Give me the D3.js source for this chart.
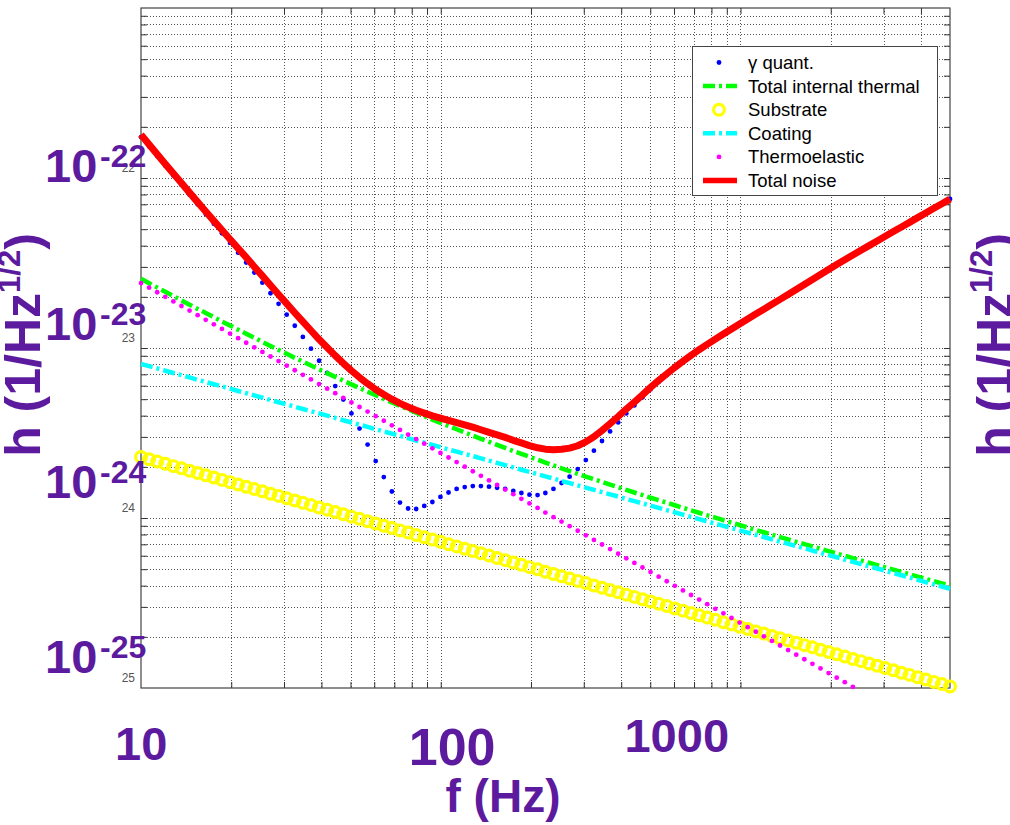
<!DOCTYPE html>
<html>
<head>
<meta charset="utf-8">
<script src="https://cdn.jsdelivr.net/npm/d3@7"></script>
<style>
  body { margin: 0; background: #fff; }
  svg { display: block; }
</style>
</head>
<body>
<svg width="1010" height="825"></svg>
<script>
// log10 of frequency (Hz) of every plotted sample
const logF = [1.000, 1.027, 1.054, 1.081, 1.108, 1.135, 1.162, 1.189, 1.216, 1.243,
  1.270, 1.297, 1.324, 1.351, 1.378, 1.405, 1.432, 1.459, 1.486, 1.513,
  1.540, 1.567, 1.594, 1.621, 1.648, 1.675, 1.702, 1.729, 1.756, 1.783,
  1.810, 1.837, 1.864, 1.891, 1.918, 1.945, 1.972, 1.999, 2.026, 2.053,
  2.080, 2.107, 2.134, 2.161, 2.188, 2.215, 2.242, 2.269, 2.296, 2.323,
  2.349, 2.376, 2.403, 2.430, 2.457, 2.484, 2.511, 2.538, 2.565, 2.592,
  2.619, 2.646, 2.673, 2.700, 2.727, 2.754, 2.781, 2.808, 2.835, 2.862,
  2.889, 2.916, 2.943, 2.970, 2.997, 3.024, 3.051, 3.078, 3.105, 3.132,
  3.159, 3.186, 3.213, 3.240, 3.267, 3.294, 3.321, 3.348, 3.375, 3.402,
  3.429, 3.456, 3.483, 3.510, 3.537, 3.564, 3.591, 3.618, 3.645, 3.672,
  3.699];

// log10 of strain noise h (1/Hz^1/2), one value per frequency above
const quantLog = [-21.759, -21.815, -21.871, -21.928, -21.985, -22.041, -22.098, -22.155, -22.212, -22.269,
  -22.325, -22.382, -22.439, -22.497, -22.556, -22.616, -22.678, -22.740, -22.804, -22.869,
  -22.935, -23.004, -23.075, -23.147, -23.224, -23.303, -23.385, -23.474, -23.568, -23.665,
  -23.759, -23.844, -23.909, -23.944, -23.947, -23.929, -23.906, -23.876, -23.850, -23.829,
  -23.818, -23.812, -23.812, -23.816, -23.822, -23.829, -23.841, -23.853, -23.863, -23.865,
  -23.853, -23.829, -23.794, -23.757, -23.712, -23.659, -23.604, -23.547, -23.491, -23.438,
  -23.385, -23.338, -23.291, -23.243, -23.200, -23.159, -23.119, -23.082, -23.046, -23.013,
  -22.981, -22.950, -22.919, -22.889, -22.860, -22.830, -22.801, -22.772, -22.743, -22.714,
  -22.685, -22.656, -22.626, -22.597, -22.568, -22.538, -22.509, -22.481, -22.453, -22.425,
  -22.398, -22.370, -22.343, -22.315, -22.288, -22.261, -22.233, -22.206, -22.178, -22.151,
  -22.123];

const internalLog = [-22.593, -22.619, -22.644, -22.669, -22.695, -22.720, -22.745, -22.770, -22.794, -22.819,
  -22.844, -22.868, -22.892, -22.916, -22.940, -22.964, -22.988, -23.011, -23.034, -23.058,
  -23.080, -23.103, -23.126, -23.148, -23.170, -23.192, -23.214, -23.236, -23.257, -23.278,
  -23.299, -23.320, -23.341, -23.361, -23.381, -23.401, -23.421, -23.440, -23.459, -23.478,
  -23.497, -23.516, -23.534, -23.552, -23.570, -23.588, -23.606, -23.623, -23.640, -23.657,
  -23.674, -23.691, -23.708, -23.724, -23.740, -23.756, -23.772, -23.788, -23.804, -23.819,
  -23.835, -23.850, -23.865, -23.881, -23.895, -23.910, -23.925, -23.940, -23.955, -23.969,
  -23.984, -23.998, -24.013, -24.027, -24.041, -24.056, -24.070, -24.084, -24.098, -24.112,
  -24.126, -24.140, -24.154, -24.167, -24.181, -24.195, -24.209, -24.222, -24.236, -24.250,
  -24.263, -24.277, -24.290, -24.304, -24.318, -24.331, -24.345, -24.358, -24.372, -24.385,
  -24.398];

const substrateLog = [-23.641, -23.654, -23.668, -23.681, -23.695, -23.708, -23.722, -23.735, -23.749, -23.762,
  -23.776, -23.789, -23.803, -23.816, -23.830, -23.843, -23.857, -23.870, -23.884, -23.897,
  -23.911, -23.924, -23.938, -23.951, -23.965, -23.978, -23.992, -24.005, -24.019, -24.032,
  -24.046, -24.059, -24.073, -24.086, -24.100, -24.113, -24.127, -24.140, -24.154, -24.167,
  -24.181, -24.194, -24.208, -24.221, -24.235, -24.248, -24.262, -24.275, -24.289, -24.302,
  -24.316, -24.329, -24.343, -24.356, -24.370, -24.383, -24.397, -24.410, -24.424, -24.437,
  -24.451, -24.464, -24.478, -24.491, -24.505, -24.518, -24.532, -24.545, -24.559, -24.572,
  -24.586, -24.599, -24.613, -24.626, -24.640, -24.653, -24.667, -24.680, -24.694, -24.707,
  -24.721, -24.734, -24.748, -24.761, -24.775, -24.788, -24.802, -24.815, -24.829, -24.842,
  -24.856, -24.869, -24.883, -24.896, -24.910, -24.923, -24.937, -24.950, -24.964, -24.977,
  -24.991];

const coatingLog = [-23.094, -23.107, -23.120, -23.134, -23.147, -23.160, -23.173, -23.187, -23.200, -23.213,
  -23.226, -23.239, -23.253, -23.266, -23.279, -23.292, -23.306, -23.319, -23.332, -23.345,
  -23.359, -23.372, -23.385, -23.398, -23.411, -23.425, -23.438, -23.451, -23.464, -23.478,
  -23.491, -23.504, -23.517, -23.530, -23.544, -23.557, -23.570, -23.583, -23.597, -23.610,
  -23.623, -23.636, -23.649, -23.663, -23.676, -23.689, -23.702, -23.716, -23.729, -23.742,
  -23.755, -23.768, -23.782, -23.795, -23.808, -23.821, -23.835, -23.848, -23.861, -23.874,
  -23.888, -23.901, -23.914, -23.927, -23.940, -23.954, -23.967, -23.980, -23.993, -24.007,
  -24.020, -24.033, -24.046, -24.059, -24.073, -24.086, -24.099, -24.112, -24.126, -24.139,
  -24.152, -24.165, -24.178, -24.192, -24.205, -24.218, -24.231, -24.245, -24.258, -24.271,
  -24.284, -24.297, -24.311, -24.324, -24.337, -24.350, -24.364, -24.377, -24.390, -24.403,
  -24.417];

// thermoelastic drops below the axis after the 89th sample
const thermoLog = [-22.618, -22.645, -22.672, -22.699, -22.726, -22.753, -22.780, -22.807, -22.834, -22.861,
  -22.888, -22.915, -22.942, -22.969, -22.996, -23.023, -23.050, -23.077, -23.104, -23.131,
  -23.158, -23.185, -23.212, -23.239, -23.266, -23.293, -23.320, -23.347, -23.374, -23.401,
  -23.428, -23.455, -23.482, -23.509, -23.536, -23.563, -23.590, -23.617, -23.644, -23.671,
  -23.698, -23.725, -23.752, -23.779, -23.806, -23.833, -23.860, -23.887, -23.914, -23.941,
  -23.968, -23.995, -24.021, -24.048, -24.075, -24.102, -24.129, -24.156, -24.183, -24.210,
  -24.237, -24.264, -24.291, -24.318, -24.345, -24.372, -24.399, -24.426, -24.453, -24.480,
  -24.507, -24.534, -24.561, -24.588, -24.615, -24.642, -24.669, -24.696, -24.723, -24.750,
  -24.777, -24.804, -24.831, -24.858, -24.885, -24.912, -24.939, -24.966, -24.993];

const totalLog = [-21.745, -21.803, -21.860, -21.917, -21.974, -22.030, -22.086, -22.142, -22.197, -22.252,
  -22.306, -22.360, -22.414, -22.467, -22.522, -22.576, -22.631, -22.685, -22.739, -22.793,
  -22.845, -22.897, -22.949, -22.997, -23.045, -23.090, -23.133, -23.173, -23.210, -23.244,
  -23.274, -23.301, -23.326, -23.347, -23.366, -23.383, -23.399, -23.413, -23.426, -23.439,
  -23.452, -23.466, -23.481, -23.496, -23.511, -23.526, -23.543, -23.558, -23.574, -23.587,
  -23.595, -23.599, -23.596, -23.589, -23.575, -23.552, -23.522, -23.485, -23.445, -23.403,
  -23.359, -23.318, -23.276, -23.232, -23.191, -23.152, -23.114, -23.078, -23.043, -23.010,
  -22.979, -22.948, -22.918, -22.888, -22.859, -22.829, -22.800, -22.772, -22.743, -22.714,
  -22.685, -22.656, -22.626, -22.597, -22.568, -22.538, -22.509, -22.481, -22.453, -22.425,
  -22.398, -22.370, -22.343, -22.315, -22.288, -22.261, -22.233, -22.206, -22.178, -22.151,
  -22.123];

const legendLabels = ["\u03b3 quant.", "Total internal thermal", "Substrate", "Coating", "Thermoelastic", "Total noise"];
const xTickValues = [10, 100, 1000];
const xTickLabels = ["10", "100", "1000"];
const yTickValues = [1e-22, 1e-23, 1e-24, 1e-25];
const yTickExps = ["-22", "-23", "-24", "-25"];
const yTickSmall = ["22", "23", "24", "25"];

const purple = "#5c1a9e";
const font = "'Liberation Sans', Arial, sans-serif";

// ---- scales
const svg = d3.select("svg");
const x = d3.scaleLog().domain([10, 5000]).range([141, 950]);
const y = d3.scaleLog().domain([1e-25, 1e-21]).range([688, 8]);

const toPoints = arr => arr.map((v, i) => ({ f: Math.pow(10, logF[i]), h: Math.pow(10, v) }));
const line = d3.line().x(d => x(d.f)).y(d => y(d.h));

// ---- grid (dotted, major + minor)
const grid = svg.append("g").attr("stroke", "#555").attr("stroke-width", 1)
  .attr("stroke-dasharray", "1,2").attr("shape-rendering", "crispEdges");
const xGrid = x.ticks().filter(v => v > 10 && v < 5000);
const yGrid = y.ticks().filter(v => v > 1.01e-25 && v < 0.99e-21);
grid.selectAll(".gx").data(xGrid).enter().append("line")
  .attr("x1", d => Math.round(x(d)) + 0.5).attr("x2", d => Math.round(x(d)) + 0.5)
  .attr("y1", 8).attr("y2", 688);
grid.selectAll(".gy").data(yGrid).enter().append("line")
  .attr("y1", d => Math.round(y(d)) + 0.5).attr("y2", d => Math.round(y(d)) + 0.5)
  .attr("x1", 141).attr("x2", 950);

// ---- inward ticks on all four sides
const mkAxis = (ax, g) => {
  g.call(ax);
  g.select(".domain").remove();
  g.selectAll("line").attr("stroke", "#333");
  g.selectAll("text").remove();
};
mkAxis(d3.axisBottom(x).tickValues(xGrid).tickSize(-6), svg.append("g").attr("transform", "translate(0,688)"));
mkAxis(d3.axisTop(x).tickValues(xGrid).tickSize(-6), svg.append("g").attr("transform", "translate(0,8)"));
mkAxis(d3.axisLeft(y).tickValues(yGrid).tickSize(-6), svg.append("g").attr("transform", "translate(141,0)"));
mkAxis(d3.axisRight(y).tickValues(yGrid).tickSize(-6), svg.append("g").attr("transform", "translate(950,0)"));

svg.append("rect").attr("x", 141).attr("y", 8).attr("width", 809).attr("height", 680)
  .attr("fill", "none").attr("stroke", "#444").attr("stroke-width", 1.2);

// ---- series (same drawing order as the legend)
const dash = "12,4,3,4";
const plot = svg.append("g");

plot.append("g").selectAll("circle").data(toPoints(quantLog)).enter().append("circle")
  .attr("cx", d => x(d.f)).attr("cy", d => y(d.h)).attr("r", 2.4).attr("fill", "#0000ff");

plot.append("path").datum(toPoints(internalLog)).attr("d", line)
  .attr("fill", "none").attr("stroke", "#00ff00").attr("stroke-width", 4.5)
  .attr("stroke-dasharray", dash);

plot.append("g").selectAll("circle").data(toPoints(substrateLog)).enter().append("circle")
  .attr("cx", d => x(d.f)).attr("cy", d => y(d.h)).attr("r", 5.4)
  .attr("fill", "none").attr("stroke", "#ffff00").attr("stroke-width", 3.2);

plot.append("path").datum(toPoints(coatingLog)).attr("d", line)
  .attr("fill", "none").attr("stroke", "#00ffff").attr("stroke-width", 4.5)
  .attr("stroke-dasharray", dash);

plot.append("g").selectAll("circle").data(toPoints(thermoLog)).enter().append("circle")
  .attr("cx", d => x(d.f)).attr("cy", d => y(d.h)).attr("r", 2.4).attr("fill", "#ff00ff");

plot.append("path").datum(toPoints(totalLog)).attr("d", line)
  .attr("fill", "none").attr("stroke", "#ff0000").attr("stroke-width", 7)
  .attr("stroke-linejoin", "round");

// ---- legend
const lg = svg.append("g").attr("font-family", font).attr("font-size", 18.5);
lg.append("rect").attr("x", 692.5).attr("y", 46.5).attr("width", 245).attr("height", 149)
  .attr("fill", "#fff").attr("stroke", "#444").attr("stroke-width", 1);
const rowY = i => 62.5 + i * 23.6;
legendLabels.forEach((t, i) => {
  lg.append("text").attr("x", 748).attr("y", rowY(i) + 6.5).attr("fill", "#000").text(t);
});
lg.append("circle").attr("cx", 719).attr("cy", rowY(0)).attr("r", 2.4).attr("fill", "#0000ff");
lg.append("line").attr("x1", 703).attr("x2", 737).attr("y1", rowY(1)).attr("y2", rowY(1))
  .attr("stroke", "#00ff00").attr("stroke-width", 4.5).attr("stroke-dasharray", dash);
lg.append("circle").attr("cx", 719).attr("cy", rowY(2)).attr("r", 5.4)
  .attr("fill", "none").attr("stroke", "#ffff00").attr("stroke-width", 3.2);
lg.append("line").attr("x1", 703).attr("x2", 737).attr("y1", rowY(3)).attr("y2", rowY(3))
  .attr("stroke", "#00ffff").attr("stroke-width", 4.5).attr("stroke-dasharray", dash);
lg.append("circle").attr("cx", 719).attr("cy", rowY(4)).attr("r", 2.4).attr("fill", "#ff00ff");
lg.append("line").attr("x1", 703).attr("x2", 737).attr("y1", rowY(5)).attr("y2", rowY(5))
  .attr("stroke", "#ff0000").attr("stroke-width", 5.5);

// ---- tick labels
// small grey exponents left over from the plot program
svg.append("g").selectAll("text").data(yTickValues).enter().append("text")
  .attr("x", 135).attr("y", d => y(d) - 6).attr("text-anchor", "end")
  .attr("font-family", font).attr("font-size", 12).attr("fill", "#555")
  .text((d, i) => yTickSmall[i]);

// big purple labels, placed by hand next to each decade
const yLabelShift = [4, -8, -20, -15];
const yl = svg.append("g").attr("font-family", font).attr("font-weight", "bold").attr("fill", purple);
yTickValues.forEach((v, i) => {
  const base = y(v) + yLabelShift[i];
  yl.append("text").attr("x", 45).attr("y", base).attr("font-size", 47).text("10");
  yl.append("text").attr("x", 100).attr("y", base - 15).attr("font-size", 32).text(yTickExps[i]);
});

const xLabelShift = [[-26, 72, 47], [-32, 77, 52], [-116, 64, 47]];
const xl = svg.append("g").attr("font-family", font).attr("font-weight", "bold").attr("fill", purple);
xTickValues.forEach((v, i) => {
  xl.append("text").attr("x", x(v) + xLabelShift[i][0]).attr("y", 688 + xLabelShift[i][1])
    .attr("font-size", xLabelShift[i][2]).text(xTickLabels[i]);
});

// ---- axis titles
svg.append("text").attr("x", 503).attr("y", 812).attr("text-anchor", "middle")
  .attr("font-family", font).attr("font-weight", "bold").attr("font-size", 46)
  .attr("fill", purple).text("f (Hz)");

const yTitle = (cx) => {
  const t = svg.append("text").attr("transform", `translate(${cx},345) rotate(-90)`)
    .attr("text-anchor", "middle").attr("font-family", font).attr("font-weight", "bold")
    .attr("font-size", 50).attr("fill", purple);
  t.append("tspan").text("h (1/Hz");
  t.append("tspan").attr("font-size", 31).attr("dy", -20).text("1/2");
  t.append("tspan").attr("dy", 20).text(")");
};
yTitle(40);
yTitle(1012);
</script>
</body>
</html>
